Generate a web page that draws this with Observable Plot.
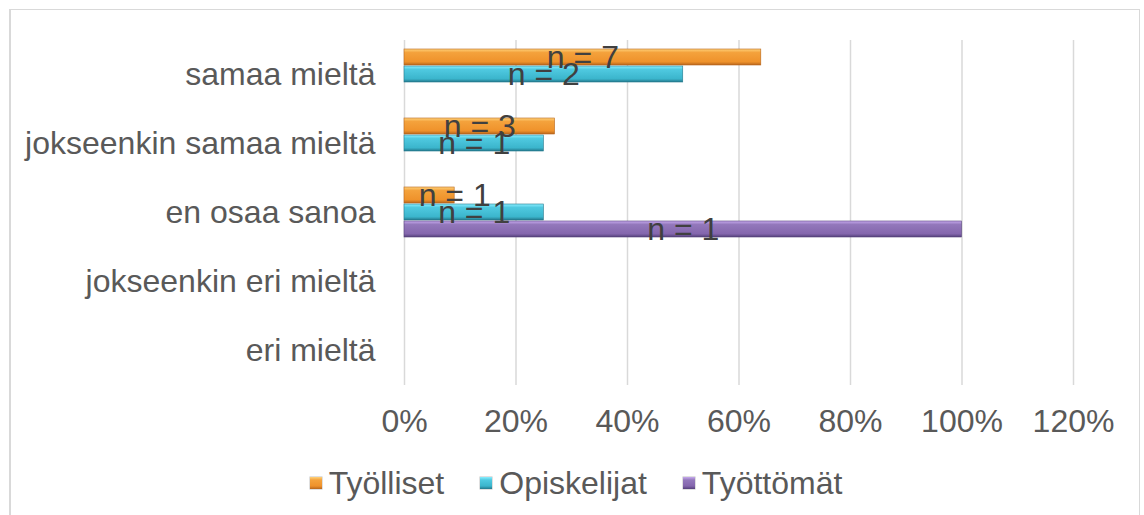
<!DOCTYPE html>
<html>
<head>
<meta charset="utf-8">
<script src="https://cdn.jsdelivr.net/npm/d3@7"></script>
<script src="https://cdn.jsdelivr.net/npm/@observablehq/plot@0.6"></script>
<style>
  html, body { margin: 0; padding: 0; background: #fff; }
  #wrap { position: relative; width: 1144px; height: 515px; overflow: hidden; font-family: "Liberation Sans", Arial, sans-serif; }
  #frame { position: absolute; left: 9px; top: 9px; width: 1131px; height: 520px; border: 1px solid #d9d9d9; border-left: 2px solid #d9d9d9; box-sizing: border-box; }
  #chart { position: absolute; left: 0; top: 0; }
  #legend { position: absolute; left: 0; top: 465px; width: 1152px; display: flex; justify-content: center; align-items: center; font-size: 32px; line-height: 36px; color: #595959; }
  .item { display: flex; align-items: center; margin: 0 18px; }
  .sw { width: 12px; height: 12px; margin-right: 7px; box-shadow: 0 0 0 0.5px rgba(0,0,0,0.25); }
</style>
</head>
<body>
<div id="wrap">
  <div id="frame"></div>
  <div id="chart"></div>
  <div id="legend"></div>
</div>
<script>
const categories = ["samaa mieltä", "jokseenkin samaa mieltä", "en osaa sanoa", "jokseenkin eri mieltä", "eri mieltä"];
const series = ["Työlliset", "Opiskelijat", "Työttömät"];
// share per category (null = no bar)
const tyollisetValues = [0.64, 0.27, 0.09, null, null];
const opiskelijatValues = [0.50, 0.25, 0.25, null, null];
const tyottomatValues = [null, null, 1.00, null, null];
// n labels
const tyollisetN = [7, 3, 1, null, null];
const opiskelijatN = [2, 1, 1, null, null];
const tyottomatN = [null, null, 1, null, null];
const xTicks = [0, 0.2, 0.4, 0.6, 0.8, 1.0, 1.2];
const minLabelX = 0.09; // labels of very short bars are pushed right, as in the source

const gradients = [
  {id: "g0", stops: ["#ffd27a", "#f4a23c", "#ef922b", "#b8661c"]},
  {id: "g1", stops: ["#8aeeff", "#4fc9e0", "#3bb5cc", "#23788c"]},
  {id: "g2", stops: ["#c6a9ee", "#9378bb", "#8466ad", "#54407a"]}
];

const valueSets = [tyollisetValues, opiskelijatValues, tyottomatValues];
const nSets = [tyollisetN, opiskelijatN, tyottomatN];
const rows = [];
series.forEach((s, si) => {
  categories.forEach((c, ci) => {
    const v = valueSets[si][ci];
    if (v != null) rows.push({series: s, si, category: c, value: v, n: nSets[si][ci]});
  });
});
// grid rows: one per category and tick so every category facet is drawn
const gridRows = categories.flatMap(c => xTicks.map(x => ({category: c, x})));

const font = '"Liberation Sans", Arial, sans-serif';
const chart = Plot.plot({
  width: 1144,
  height: 420,
  marginLeft: 404,
  marginRight: 71,
  marginTop: 39,
  marginBottom: 34,
  style: {fontFamily: font, fontSize: "32px", color: "#595959", background: "transparent", overflow: "visible"},
  x: {domain: [0, 1.2]},
  fy: {domain: categories, padding: 0},
  y: {domain: series, paddingInner: 0.04, paddingOuter: 0.5, axis: null},
  marks: [
    Plot.ruleX(gridRows, {x: "x", fy: "category", stroke: "#d9d9d9", strokeWidth: 1.5, strokeOpacity: 1}),
    ...series.map((s, si) => Plot.barX(rows.filter(d => d.si === si), {
      x: "value", y: "series", fy: "category",
      fill: `url(#${gradients[si].id})`,
      stroke: gradients[si].stops[3], strokeWidth: 0.6
    })),
    Plot.text(rows, {
      x: d => Math.max(d.value / 2, minLabelX), y: "series", fy: "category",
      text: d => "n = " + d.n, fontSize: 32, fill: "#404040", fontFamily: font
    }),
    Plot.axisX({anchor: "bottom", ticks: xTicks, tickFormat: d => Math.round(d * 100) + "%", tickSize: 0, tickPadding: 24, label: null, fontSize: 32, fill: "#595959"}),
    Plot.axisFy({anchor: "left", tickSize: 0, tickPadding: 29, label: null, fontSize: 32, fill: "#595959"})
  ]
});

// gradient defs
const ns = "http://www.w3.org/2000/svg";
const defs = document.createElementNS(ns, "defs");
gradients.forEach(g => {
  const lg = document.createElementNS(ns, "linearGradient");
  lg.setAttribute("id", g.id);
  lg.setAttribute("x1", "0"); lg.setAttribute("y1", "0");
  lg.setAttribute("x2", "0"); lg.setAttribute("y2", "1");
  [[0, g.stops[0]], [0.22, g.stops[1]], [0.8, g.stops[2]], [1, g.stops[3]]].forEach(([o, c]) => {
    const st = document.createElementNS(ns, "stop");
    st.setAttribute("offset", o);
    st.setAttribute("stop-color", c);
    lg.appendChild(st);
  });
  defs.appendChild(lg);
});
chart.insertBefore(defs, chart.firstChild);
document.getElementById("chart").appendChild(chart);

// legend
const legend = document.getElementById("legend");
series.forEach((s, si) => {
  const item = document.createElement("div");
  item.className = "item";
  const sw = document.createElement("span");
  sw.className = "sw";
  const st = gradients[si].stops;
  sw.style.background = `linear-gradient(to bottom, ${st[0]} 0%, ${st[1]} 25%, ${st[2]} 75%, ${st[3]} 100%)`;
  const t = document.createElement("span");
  t.textContent = s;
  item.appendChild(sw);
  item.appendChild(t);
  legend.appendChild(item);
});
</script>
</body>
</html>
